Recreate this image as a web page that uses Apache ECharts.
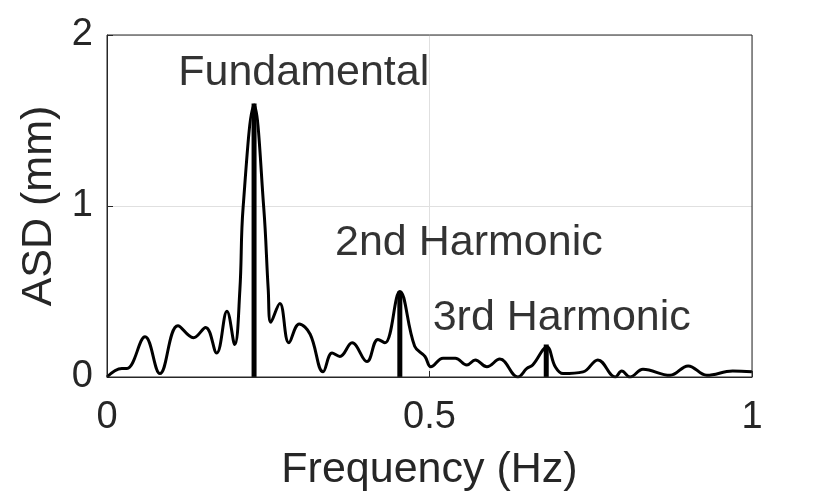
<!DOCTYPE html>
<html><head><meta charset="utf-8">
<script src="https://cdn.jsdelivr.net/npm/echarts@6/dist/echarts.min.js"></script>
<style>html,body{margin:0;padding:0;background:#fff}#c{width:830px;height:498px}</style>
</head><body><div id="c"></div>
<script>
const freq = [0,0.023,0.031,0.059,0.082,0.110,0.134,0.153,0.170,0.186,0.198,0.206,0.211,0.228,0.243,0.250,0.254,0.268,0.282,0.298,0.315,0.335,0.349,0.361,0.380,0.403,0.420,0.431,0.454,0.477,0.493,0.502,0.521,0.540,0.558,0.571,0.589,0.609,0.637,0.651,0.660,0.682,0.695,0.707,0.738,0.761,0.788,0.798,0.811,0.831,0.873,0.901,0.930,0.970,1.0];
const asd  = [0,0.05,0.05,0.235,0.02,0.30,0.23,0.29,0.14,0.385,0.19,0.51,0.99,1.59,0.99,0.51,0.32,0.43,0.20,0.31,0.25,0.03,0.14,0.12,0.20,0.09,0.22,0.20,0.50,0.18,0.12,0.06,0.11,0.11,0.07,0.10,0.06,0.105,0.0,0.05,0.07,0.175,0.06,0.02,0.03,0.10,0.0,0.035,0.0,0.045,0.01,0.065,0.01,0.035,0.03];
const peakFreq = [0.228,0.454,0.681];
const peakAsd = [1.60,0.50,0.19];
const labelNames = ['Fundamental','2nd Harmonic','3rd Harmonic'];
const labelFreq = [0.305,0.561,0.705];
const labelAsd = [1.775,0.78,0.345];
const xTicks = [0,0.5,1];
const yTicks = [0,1,2];

const chart = echarts.init(document.getElementById('c'));
const F = 'Liberation Sans, Arial, Helvetica, sans-serif';
const stemSeries = peakFreq.map((f,i)=>({
  type:'line', data:[[f,0],[f,peakAsd[i]]], symbol:'none', z:3,
  lineStyle:{color:'#000',width:5}, animation:false
}));
chart.setOption({
  animation:false,
  grid:{left:107,top:35,right:78,bottom:121},
  xAxis:{type:'value',min:0,max:1,interval:0.5,
    name:'Frequency (Hz)',nameLocation:'middle',nameGap:72,
    nameTextStyle:{fontFamily:F,fontSize:43,color:'#262626'},
    axisLine:{show:true,lineStyle:{color:'#262626',width:1}},
    axisTick:{show:true,inside:true,length:6,lineStyle:{color:'#262626'}},
    axisLabel:{fontFamily:F,fontSize:38,color:'#262626',margin:22,
      formatter:v=>String(v)},
    splitLine:{show:true,lineStyle:{color:'#e0e0e0',width:1}}},
  yAxis:{type:'value',min:0,max:2,interval:1,
    name:'ASD (mm)',nameLocation:'middle',nameGap:41,nameRotate:90,
    nameTextStyle:{fontFamily:F,fontSize:43,color:'#262626'},
    axisLine:{show:true,lineStyle:{color:'#262626',width:1}},
    axisTick:{show:true,inside:true,length:6,lineStyle:{color:'#262626'}},
    axisLabel:{fontFamily:F,fontSize:38,color:'#262626',margin:14},
    splitLine:{show:true,lineStyle:{color:'#e0e0e0',width:1}}},
  graphic:[{type:'rect',shape:{x:107,y:35,width:645,height:342},
    style:{fill:'none',stroke:'#262626',lineWidth:1},z:10,silent:true}],
  series:[
    {type:'line',data:freq.map((f,i)=>[f,asd[i]]),smooth:0.4,symbol:'none',
     lineStyle:{color:'#000',width:3},z:4},
    ...stemSeries,
    {type:'scatter',symbolSize:0,data:labelFreq.map((f,i)=>[f,labelAsd[i]]),
     label:{show:true,position:'inside',fontFamily:F,fontSize:43,color:'#000',
       formatter:p=>labelNames[p.dataIndex]},z:6}
  ]
});
</script></body></html>
